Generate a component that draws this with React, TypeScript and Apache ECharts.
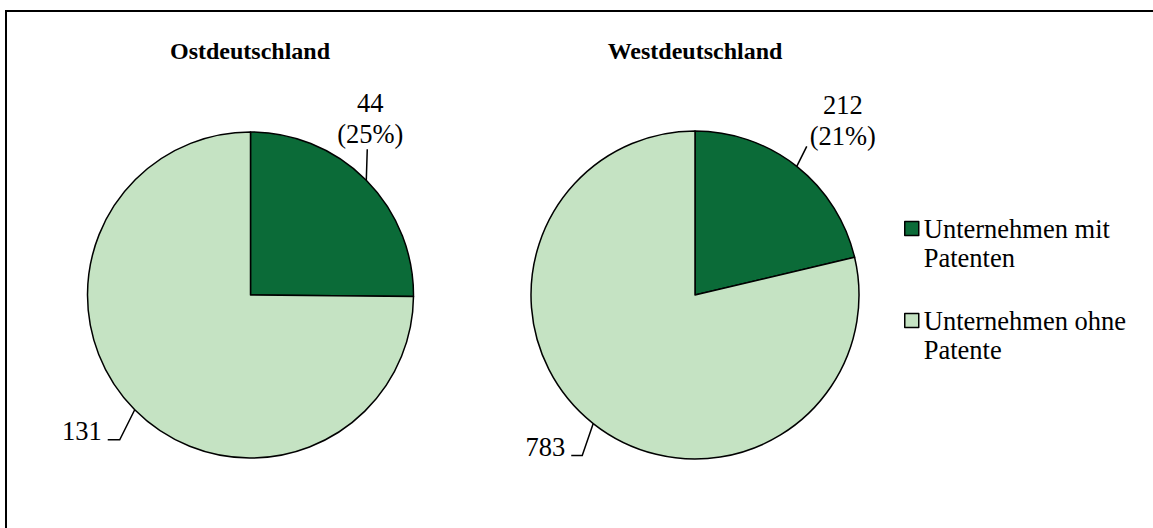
import React, { useEffect, useRef } from 'react';
import * as echarts from 'echarts';

const categories = ['Unternehmen mit Patenten', 'Unternehmen ohne Patente'];
const regions = ['Ostdeutschland', 'Westdeutschland'];
const ostValues = [44, 131];
const westValues = [212, 783];
const colors = ['#0b6b38', '#c5e3c3'];

const FONT = "'Liberation Serif', 'Times New Roman', serif";

type Cfg = {
  top: { dx: number; dy: number; lx: number; ly: number };
  bot: { dx: number; dy: number; hx: number; lx: number; ly: number };
};

const mkLayout = (cfg: Cfg) => (params: any) => {
  const p0: number[] = params.labelLinePoints ? params.labelLinePoints[0] : [0, 0];
  if (params.dataIndex === 0) {
    const p1 = [p0[0] + cfg.top.dx, p0[1] + cfg.top.dy];
    return {
      x: p1[0] + cfg.top.lx,
      y: p1[1] + cfg.top.ly,
      align: 'center',
      verticalAlign: 'bottom',
      labelLinePoints: [p0, p1, p1],
    };
  }
  const p1 = [p0[0] + cfg.bot.dx, p0[1] + cfg.bot.dy];
  const p2 = [p1[0] + cfg.bot.hx, p1[1]];
  return {
    x: p2[0] + cfg.bot.lx,
    y: p2[1] + cfg.bot.ly,
    align: 'right',
    verticalAlign: 'middle',
    labelLinePoints: [p0, p1, p2],
  };
};

const labelFormatter = (p: any) => {
  if (p.dataIndex === 0) {
    return `${p.value}\n(${Math.round(p.percent)}%)`;
  }
  return `${p.value}`;
};

const makeSeries = (
  name: string,
  values: number[],
  center: number[],
  radius: number,
  cfg: Cfg
) => ({
  type: 'pie',
  name,
  center,
  radius,
  startAngle: 90,
  clockwise: true,
  avoidLabelOverlap: false,
  silent: true,
  itemStyle: { borderColor: '#000', borderWidth: 1.5 },
  emphasis: { disabled: true },
  label: {
    show: true,
    position: 'outside',
    formatter: labelFormatter,
    color: '#000',
    fontFamily: FONT,
    fontSize: 26.5,
    lineHeight: 31,
  },
  labelLine: { show: true, lineStyle: { color: '#000', width: 1.5 } },
  labelLayout: mkLayout(cfg),
  data: values.map((v, i) => ({
    name: categories[i],
    value: v,
    itemStyle: { color: colors[i] },
  })),
});

export default function App() {
  const ref = useRef<HTMLDivElement>(null);
  useEffect(() => {
    if (!ref.current) return;
    const chart = echarts.init(ref.current, undefined, { renderer: 'svg' });
    chart.setOption({
      animation: false,
      backgroundColor: '#fff',
      title: [
        {
          text: regions[0],
          left: 250,
          top: 39,
          textAlign: 'center',
          padding: 0,
          textStyle: { fontFamily: FONT, fontWeight: 'bold', fontSize: 24, color: '#000' },
        },
        {
          text: regions[1],
          left: 695,
          top: 39,
          textAlign: 'center',
          padding: 0,
          textStyle: { fontFamily: FONT, fontWeight: 'bold', fontSize: 24, color: '#000' },
        },
      ],
      legend: {
        orient: 'vertical',
        left: 904,
        top: 185,
        padding: 0,
        itemWidth: 14,
        itemHeight: 14,
        itemGap: 5,
        icon: 'rect',
        data: categories,
        selectedMode: false,
        itemStyle: { borderColor: '#000', borderWidth: 1.5 },
        formatter: (name: string) => '\n' + name.replace(/ (\S+)$/, '\n$1'),
        textStyle: {
          fontFamily: FONT,
          fontSize: 26.5,
          lineHeight: 29,
          color: '#000',
        },
      },
      graphic: [
        {
          type: 'rect',
          shape: { x: 6, y: 11, width: 1170, height: 540 },
          style: { fill: 'none', stroke: '#000', lineWidth: 2 },
          silent: true,
        },
      ],
      series: [
        makeSeries(regions[0], ostValues, [250.5, 295], 163, {
          top: { dx: 1, dy: -31, lx: 3, ly: 0 },
          bot: { dx: -15, dy: 30, hx: -12, lx: -6, ly: -9 },
        }),
        makeSeries(regions[1], westValues, [695, 295], 164, {
          top: { dx: 10, dy: -20, lx: 36, ly: 5 },
          bot: { dx: -11, dy: 32, hx: -11, lx: -6, ly: -9 },
        }),
      ],
    });
    return () => chart.dispose();
  }, []);
  return (
    <div
      ref={ref}
      style={{ position: 'fixed', left: 0, top: 0, width: 1153, height: 528 }}
    />
  );
}
